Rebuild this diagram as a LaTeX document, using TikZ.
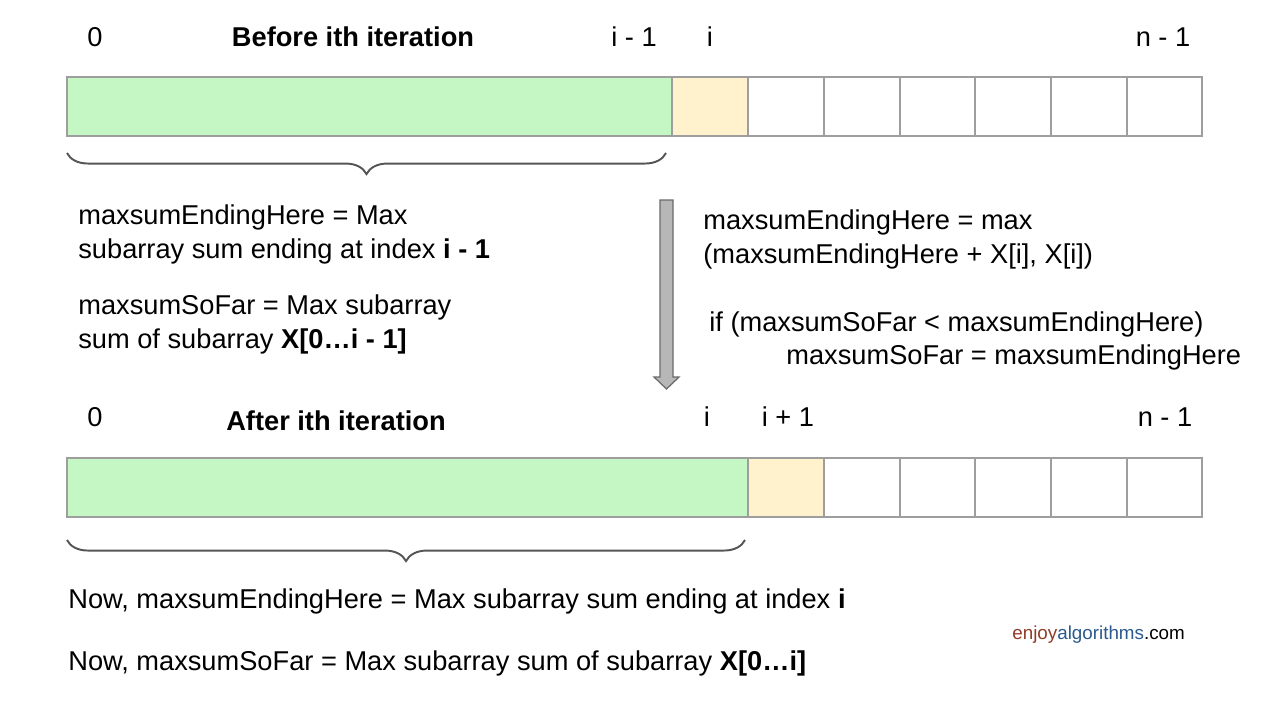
\documentclass[tikz,border=0pt]{standalone}
\usepackage{fontspec}
\setmainfont{Liberation Sans}
\usetikzlibrary{decorations.pathreplacing}

\definecolor{donegreen}{HTML}{C4F7C4}
\definecolor{curyellow}{HTML}{FFF2CC}
\definecolor{cellgray}{HTML}{9E9E9E}
\definecolor{bracegray}{HTML}{555555}
\definecolor{arrowfill}{HTML}{B7B7B7}
\definecolor{arrowline}{HTML}{6A6A6A}
\definecolor{enjoyred}{HTML}{8E3B26}
\definecolor{algoblue}{HTML}{2B5A8C}

\newcommand{\txtsize}{\fontsize{15.5}{18}\selectfont}

\tikzset{
  txt/.style={font=\txtsize, anchor=base west, inner sep=0pt},
  idx/.style={font=\txtsize, anchor=base, inner sep=0pt},
  title/.style={font=\txtsize\bfseries, anchor=base, inner sep=0pt},
  cell/.style={draw=cellgray, line width=0.7pt},
  curly/.style={draw=bracegray, line width=1.1pt, decorate,
    decoration={brace, amplitude=12pt}},
}

\begin{document}
\begin{tikzpicture}[x=0.02cm, y=-0.02cm]
  \useasboundingbox (0,0) rectangle (1280,720);

  % before the ith iteration
  \node[idx] (zeroA) at (95,46) {0};
  \node[title] (before) at (353,46) {Before ith iteration};
  \node[idx] (prevA) at (634,46) {i - 1};
  \node[idx] (curA) at (710,46) {i};
  \node[idx] (lastA) at (1163,46) {n - 1};

  \fill[donegreen] (67,77) rectangle (672,136);
  \fill[curyellow] (672,77) rectangle (748,136);
  \draw[cell] (67,77) rectangle (1202,136);
  \foreach \x in {672,748,824,900,975,1051,1127}
    \draw[cell] (\x,77) -- (\x,136);
  \draw[curly] (666,153) -- (67,153);

  \node[txt] (endA1) at (78,224) {maxsumEndingHere = Max};
  \node[txt] (endA2) at (78,258) {subarray sum ending at index \textbf{i - 1}};
  \node[txt] (farA1) at (78,314) {maxsumSoFar = Max subarray};
  \node[txt] (farA2) at (78,348) {sum of subarray \textbf{X[0…i - 1]}};

  % update step
  \filldraw[fill=arrowfill, draw=arrowline, line width=0.7pt]
    (660,200) -- (673,200) -- (673,377) -- (679,377) -- (666.5,389)
    -- (654,377) -- (660,377) -- cycle;
  \node[txt] (upd1) at (703,229) {maxsumEndingHere = max};
  \node[txt] (upd2) at (703,263) {(maxsumEndingHere + X[i], X[i])};
  \node[txt] (upd3) at (709,331) {if (maxsumSoFar < maxsumEndingHere)};
  \node[txt] (upd4) at (786,364) {maxsumSoFar = maxsumEndingHere};

  % after the ith iteration
  \node[idx] (zeroB) at (95,426) {0};
  \node[title] (after) at (336,430) {After ith iteration};
  \node[idx] (curB) at (707,426) {i};
  \node[idx] (nextB) at (788,426) {i + 1};
  \node[idx] (lastB) at (1165,426) {n - 1};

  \fill[donegreen] (67,458) rectangle (748,517);
  \fill[curyellow] (748,458) rectangle (824,517);
  \draw[cell] (67,458) rectangle (1202,517);
  \foreach \x in {748,824,900,975,1051,1127}
    \draw[cell] (\x,458) -- (\x,517);
  \draw[curly] (745,540) -- (67,540);

  \node[txt] (nowEnd) at (68,608) {Now, maxsumEndingHere = Max subarray sum ending at index \textbf{i}};
  \node[txt] (nowFar) at (68,670) {Now, maxsumSoFar = Max subarray sum of subarray \textbf{X[0…i]}};

  \node[anchor=base west, inner sep=0pt, font=\fontsize{10.7}{12}\selectfont] (logo)
    at (1012,639) {\textcolor{enjoyred}{enjoy}\textcolor{algoblue}{algorithms}.com};
\end{tikzpicture}
\end{document}
